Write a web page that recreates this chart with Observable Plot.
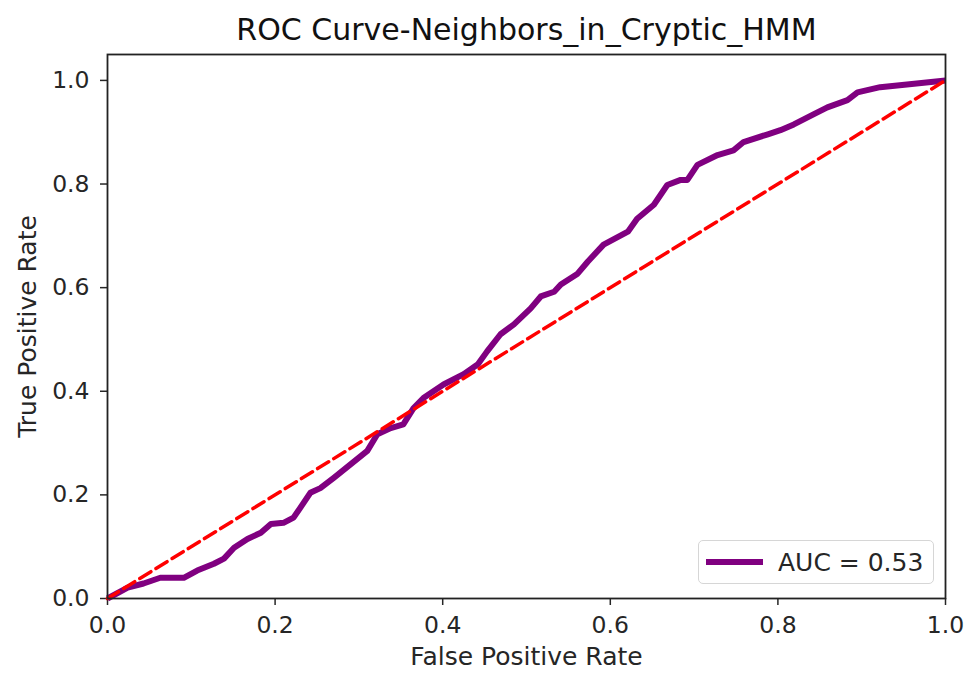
<!DOCTYPE html>
<html>
<head>
<meta charset="utf-8">
<script src="https://cdn.jsdelivr.net/npm/d3@7"></script>
<script src="https://cdn.jsdelivr.net/npm/@observablehq/plot@0.6"></script>
<style>
  html, body { margin: 0; padding: 0; background: #fff; }
  #wrap { position: relative; width: 968px; height: 673px; font-family: "DejaVu Sans", sans-serif; }
  #legend {
    position: absolute; left: 698px; top: 540px; width: 236px; height: 44px;
    box-sizing: border-box; border: 1.5px solid #d6d6d6; border-radius: 5px; background: rgba(255,255,255,0.8);
    display: flex; align-items: center; font-size: 25px; color: #262626;
  }
  #legend .swatch { width: 57px; height: 6px; background: purple; margin-left: 7px; margin-right: 15px; }
</style>
</head>
<body>
<div id="wrap"></div>
<script>
const fpr = [0, 0.024, 0.043, 0.063, 0.091, 0.107, 0.127, 0.139, 0.151, 0.167, 0.183, 0.195, 0.21, 0.222, 0.23, 0.242, 0.254, 0.27, 0.29, 0.31, 0.322, 0.338, 0.353, 0.365, 0.377, 0.401, 0.425, 0.442, 0.453, 0.469, 0.485, 0.505, 0.517, 0.533, 0.541, 0.561, 0.573, 0.592, 0.621, 0.632, 0.652, 0.668, 0.684, 0.692, 0.704, 0.728, 0.747, 0.759, 0.788, 0.803, 0.819, 0.843, 0.859, 0.883, 0.895, 0.922, 0.954, 1.0];
const tpr = [0, 0.021, 0.029, 0.04, 0.04, 0.054, 0.067, 0.077, 0.098, 0.115, 0.127, 0.144, 0.146, 0.156, 0.175, 0.204, 0.213, 0.233, 0.259, 0.285, 0.317, 0.329, 0.336, 0.367, 0.387, 0.413, 0.433, 0.452, 0.477, 0.51, 0.529, 0.56, 0.583, 0.592, 0.606, 0.627, 0.65, 0.683, 0.708, 0.733, 0.76, 0.798, 0.808, 0.808, 0.837, 0.856, 0.865, 0.881, 0.896, 0.904, 0.915, 0.935, 0.948, 0.962, 0.977, 0.987, 0.992, 1.0];
const diagX = [0, 1];
const diagY = [0, 1];
const ticks = [0, 0.2, 0.4, 0.6, 0.8, 1.0];
const title = "ROC Curve-Neighbors_in_Cryptic_HMM";
const xLabel = "False Positive Rate";
const yLabel = "True Positive Rate";
const aucLabel = "AUC = 0.53";

const roc = fpr.map((x, i) => ({x, y: tpr[i]}));
const diag = diagX.map((x, i) => ({x, y: diagY[i]}));

const chart = Plot.plot({
  width: 968,
  height: 673,
  marginLeft: 107,
  marginRight: 23,
  marginTop: 54,
  marginBottom: 75,
  style: {fontFamily: "DejaVu Sans, sans-serif", fontSize: "23px", color: "#262626", background: "#fff"},
  x: {domain: [0, 1]},
  y: {domain: [0, 1.05]},
  marks: [
    Plot.axisX({ticks, tickFormat: d3.format(".1f"), tickSize: 7, tickPadding: 11, fontSize: 23.5, label: null, strokeWidth: 1.5}),
    Plot.axisY({ticks, tickFormat: d3.format(".1f"), tickSize: 7, tickPadding: 11, fontSize: 23.5, label: null, strokeWidth: 1.5}),
    Plot.line(roc, {x: "x", y: "y", stroke: "purple", strokeWidth: 6, strokeLinejoin: "round", strokeLinecap: "butt"}),
    Plot.line(diag, {x: "x", y: "y", stroke: "red", strokeWidth: 3.5, strokeDasharray: "13,6"}),
    Plot.frame({stroke: "#222", strokeWidth: 1.8}),
    Plot.text([title], {frameAnchor: "top", dy: -36, fontSize: 30, fill: "#111", text: d => d}),
    Plot.text([xLabel], {frameAnchor: "bottom", dy: 66, fontSize: 25, fill: "#262626", text: d => d}),
    Plot.text([yLabel], {frameAnchor: "left", dx: -80, rotate: -90, textAnchor: "middle", fontSize: 25, fill: "#262626", text: d => d})
  ]
});
document.getElementById("wrap").appendChild(chart);
const lg = document.createElement("div");
lg.id = "legend";
lg.innerHTML = '<div class="swatch"></div><span></span>';
lg.querySelector("span").textContent = aucLabel;
document.getElementById("wrap").appendChild(lg);
</script>
</body>
</html>
